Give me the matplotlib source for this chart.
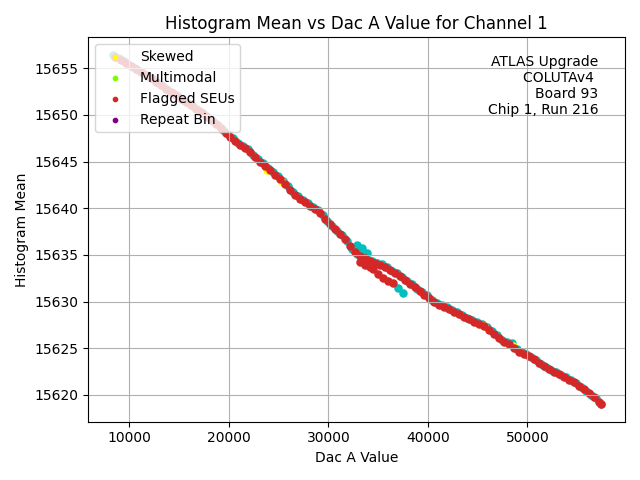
import matplotlib
matplotlib.use('Agg')
import matplotlib.pyplot as plt

# Every histogram mean (drawn first, in cyan)
all_dac = [8310, 8900, 9400, 9900, 10400, 10900, 11400, 11900, 12400, 12900,
           13400, 13900, 14400, 14900, 15400, 15900, 16400, 16900, 17400, 17900,
           18400, 18900, 19400, 19900, 20400, 20900, 21400, 21900, 22400, 22900,
           23400, 23900, 24400, 24900, 25400, 25900, 26400, 26900, 27400, 27900,
           28400, 28900, 29400, 29900, 30400, 30900, 31400, 31900, 32400, 32826,
           32900, 33331, 33400, 33836, 33900, 34400, 34900, 35400, 35900, 36400,
           36900, 37000, 37400, 37472, 37900, 38400, 38900, 39400, 39900, 40400,
           40900, 41400, 41900, 42400, 42900, 43400, 43900, 44400, 44900, 45400,
           45900, 46400, 46900, 47400, 47900, 48400, 48900, 49400, 49900, 50400,
           50900, 51400, 51900, 52400, 52900, 53400, 53900, 54400, 54900, 55400,
           55900, 56400, 56900, 57350]
all_mean = [15656.43, 15656.08, 15655.79, 15655.49, 15655.16, 15654.83, 15654.50,
            15654.16, 15653.79, 15653.42, 15653.05, 15652.68, 15652.33, 15651.98,
            15651.63, 15651.28, 15650.92, 15650.57, 15650.16, 15649.73, 15649.31,
            15648.89, 15648.42, 15647.94, 15647.47, 15646.99, 15646.71, 15646.34,
            15645.75, 15645.30, 15644.83, 15644.35, 15643.89, 15643.43, 15642.96,
            15642.42, 15641.74, 15641.32, 15640.90, 15640.53, 15640.16, 15639.78,
            15639.26, 15638.67, 15638.14, 15637.61, 15637.09, 15636.50, 15635.62,
            15636.11, 15635.11, 15635.69, 15634.85, 15635.15, 15634.59, 15634.32,
            15634.08, 15633.99, 15633.65, 15633.28, 15633.10, 15631.45, 15632.62,
            15630.89, 15632.15, 15631.85, 15631.38, 15630.97, 15630.65, 15630.18,
            15629.86, 15629.64, 15629.40, 15629.12, 15628.84, 15628.56, 15628.29,
            15628.04, 15627.82, 15627.60, 15627.27, 15626.89, 15626.37, 15625.91,
            15625.64, 15625.55, 15624.87, 15624.56, 15624.34, 15624.09, 15623.72,
            15623.36, 15623.04, 15622.71, 15622.42, 15622.15, 15621.87, 15621.57,
            15621.27, 15620.88, 15620.45, 15620.04, 15619.64, 15619.08]

# Skewed histograms
skew_dac = [23838, 25353, 45653, 48583]
skew_mean = [15644.10, 15642.84, 15627.36, 15625.23]

# Multimodal and repeat-bin flags (none for this channel)
multi_dac = []
multi_mean = []
repeat_dac = []
repeat_mean = []

# Flagged SEUs
seu_dac = [8560, 9150, 9650, 10150, 10650, 11150, 11650, 12150, 12650, 13150,
           13650, 14150, 14650, 15150, 15650, 16150, 16650, 17150, 17650, 18150,
           18650, 19150, 19650, 20150, 20650, 21150, 21650, 22150, 22650, 23150,
           23650, 24150, 24650, 25150, 25650, 26150, 26650, 27150, 27650, 28150,
           28650, 29150, 29650, 30150, 30650, 31150, 31650, 32150, 32650, 33150,
           33200, 33650, 33700, 34150, 34200, 34450, 34650, 35000, 35150, 35450,
           35650, 35950, 36150, 36450, 36650, 37150, 37650, 38150, 38650, 39150,
           39650, 40150, 40650, 41150, 41650, 42150, 42650, 43150, 43650, 44150,
           44650, 45150, 45650, 46150, 46650, 47150, 47650, 48150, 48650, 49150,
           49650, 50150, 50650, 51150, 51650, 52150, 52650, 53150, 53650, 54150,
           54650, 55150, 55650, 56150, 56650, 57150, 57350]
seu_mean = [15656.18, 15655.86, 15655.56, 15655.25, 15654.92, 15654.59, 15654.25,
            15653.90, 15653.53, 15653.16, 15652.79, 15652.43, 15652.08, 15651.73,
            15651.38, 15651.02, 15650.67, 15650.29, 15649.87, 15649.44, 15649.02,
            15648.58, 15648.10, 15647.63, 15647.15, 15646.77, 15646.45, 15645.97,
            15645.45, 15644.99, 15644.51, 15644.04, 15643.58, 15643.12, 15642.61,
            15642.00, 15641.45, 15641.03, 15640.64, 15640.27, 15639.89, 15639.44,
            15638.89, 15638.33, 15637.80, 15637.27, 15636.72, 15635.98, 15635.29,
            15634.90, 15634.25, 15634.64, 15633.90, 15634.38, 15633.70, 15633.50,
            15634.12, 15632.95, 15633.95, 15632.50, 15633.74, 15632.25, 15633.39,
            15631.95, 15633.11, 15632.78, 15632.31, 15631.92, 15631.54, 15631.10,
            15630.73, 15630.34, 15629.94, 15629.67, 15629.44, 15629.18, 15628.90,
            15628.62, 15628.35, 15628.09, 15627.85, 15627.63, 15627.36, 15627.00,
            15626.55, 15626.06, 15625.70, 15625.41, 15625.02, 15624.64, 15624.37,
            15624.14, 15623.83, 15623.46, 15623.12, 15622.80, 15622.49, 15622.21,
            15621.93, 15621.64, 15621.34, 15620.99, 15620.59, 15620.17, 15619.76,
            15619.28, 15619.00]

channel = 1
info = 'ATLAS Upgrade\nCOLUTAv4 \nBoard 93\nChip 1, Run 216'

plt.figure(figsize = (6.4, 4.8), dpi = 100)
plt.scatter(all_dac, all_mean, s = 26, color = 'c')
plt.scatter(skew_dac, skew_mean, s = 26, color = 'yellow', label = 'Skewed')
plt.scatter(multi_dac, multi_mean, s = 26, color = 'lawngreen',
            label = 'Multimodal')
plt.scatter(seu_dac, seu_mean, s = 26, color = 'tab:red',
            label = 'Flagged SEUs')
plt.scatter(repeat_dac, repeat_mean, s = 26, color = 'purple',
            label = 'Repeat Bin')
plt.text(0.95, 0.955, info, transform = plt.gca().transAxes,
         ha = 'right', va = 'top', multialignment = 'right')
plt.title('Histogram Mean vs Dac A Value for Channel {}'.format(channel))
plt.xlabel('Dac A Value')
plt.ylabel('Histogram Mean')
plt.grid(which = 'major')
plt.legend(loc = 'upper left', markerscale = 0.6)
plt.tight_layout()
plt.savefig('out.png')
